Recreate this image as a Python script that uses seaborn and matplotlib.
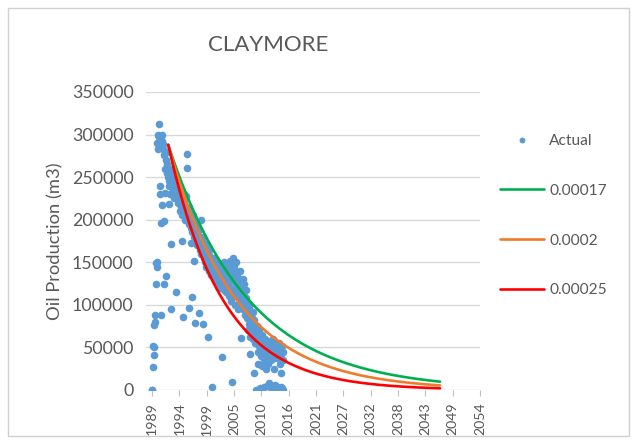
import numpy as np
import pandas as pd
import matplotlib
matplotlib.use("Agg")
import matplotlib.pyplot as plt
import seaborn as sns
from matplotlib.patches import Rectangle
from matplotlib.lines import Line2D

sns.set_theme(style="white")
plt.rcParams["font.family"] = ["Lato", "DejaVu Sans"]

# Monthly oil production, thousand m3, starting January 1989
actual_1989_1993 = [
    0, 0, 27, 52, 41, 50, 76, 88, 80, 125, 149, 145,
    150, 290, 300, 283, 312, 297, 285, 240, 230, 196, 88, 217,
    293, 300, 283, 289, 276, 125, 198, 231, 260, 270, 134, 255,
    280, 265, 250, 255, 240, 245, 219, 230, 245, 172, 95, 260,
    250, 240, 255, 235, 245, 230, 225, 250, 238, 115, 228, 242,
]
actual_1994_1998 = [
    235, 245, 228, 220, 240, 232, 225, 210, 238, 230, 215, 175,
    205, 225, 218, 86, 230, 210, 222, 215, 200, 228, 212, 205,
    261, 277, 210, 205, 96, 195, 215, 200, 208, 190, 173, 109,
    200, 185, 195, 205, 152, 190, 180, 192, 79, 175, 185, 170,
    185, 195, 178, 170, 91, 188, 172, 180, 165, 200, 160, 175,
]
actual_1999_2003 = [
    165, 175, 180, 78, 160, 170, 155, 168, 150, 172, 162, 145,
    160, 150, 155, 62, 165, 140, 158, 148, 152, 145, 135, 155,
    3, 150, 142, 135, 155, 148, 138, 130, 145, 140, 152, 128,
    140, 135, 148, 130, 125, 142, 138, 132, 120, 145, 128, 136,
    39, 135, 130, 140, 118, 125, 150, 132, 128, 115, 138, 122,
]
actual_2004_2008 = [
    130, 145, 120, 125, 110, 140, 135, 152, 118, 128, 105, 150,
    9, 140, 132, 155, 120, 110, 145, 128, 100, 138, 115, 150,
    125, 135, 95, 120, 115, 108, 130, 140, 112, 100, 61, 125,
    120, 110, 130, 95, 115, 105, 125, 88, 100, 118, 92, 108,
    95, 85, 102, 70, 90, 78, 98, 62, 42, 88, 75, 80,
]
actual_2009_2015 = [
    85, 70, 92, 60, 75, 20, 82, 65, 55, 72, 0, 68,
    60, 75, 45, 58, 30, 70, 52, 2, 62, 48, 40, 55,
    65, 28, 50, 42, 58, 35, 3, 48, 60, 25, 44, 52,
    40, 5, 55, 45, 30, 50, 8, 42, 58, 35, 2, 47,
    52, 40, 3, 60, 45, 25, 55, 6, 38, 48, 1, 42,
    50, 4, 45, 2, 38, 55, 1, 30, 48, 3, 42, 20,
    52, 2, 35, 45, 0,
]
first_year = 1989

# Exponential decline fits (daily decline rates)
decline_rates = [0.00017, 0.0002, 0.00025]
rate_labels = ["0.00017", "0.0002", "0.00025"]
rate_colors = ["#00B050", "#F07B2C", "#FF0000"]
initial_rate = 288000
fit_start = 1992.25
fit_end = 2046.75

# Date axis: a major unit of 2000 days
tick_labels = ["1989", "1994", "1999", "2005", "2010", "2016", "2021",
               "2027", "2032", "2038", "2043", "2049", "2054"]
y_ticks = [0, 50000, 100000, 150000, 200000, 250000, 300000, 350000]

actual_kt = (actual_1989_1993 + actual_1994_1998 + actual_1999_2003
             + actual_2004_2008 + actual_2009_2015)
actual = pd.DataFrame({
    "year": first_year + np.arange(len(actual_kt)) / 12.0,
    "production": np.array(actual_kt, dtype=float) * 1000.0,
})

fit_days = np.arange(0.0, (fit_end - fit_start) * 365.25 + 1, 30.0)
fits = pd.concat([
    pd.DataFrame({
        "year": fit_start + fit_days / 365.25,
        "production": initial_rate * np.exp(-rate * fit_days),
        "fit": label,
    })
    for rate, label in zip(decline_rates, rate_labels)
], ignore_index=True)

W, H = 637, 443
fig = plt.figure(figsize=(W / 100, H / 100), dpi=100)
fig.patch.set_facecolor("white")
fig.patches.append(Rectangle((8 / W, 1 - 436 / H), 621 / W, 428 / H,
                             transform=fig.transFigure, fill=False,
                             edgecolor="#D0D0D0", linewidth=1.0))

ax_left, ax_right, ax_top, ax_bottom = 146, 480, 92, 390
ax = fig.add_axes([ax_left / W, 1 - ax_bottom / H,
                   (ax_right - ax_left) / W, (ax_bottom - ax_top) / H])
ax.set_facecolor("white")

step_years = 2000 / 365.25
x_ticks = first_year + np.arange(len(tick_labels)) * step_years
x_max = x_ticks[-1]
px_per_year = (ax_right - 152) / (x_max - first_year)
ax.set_xlim(first_year - (152 - ax_left) / px_per_year, x_max)
ax.set_ylim(0, 350000)

for yv in y_ticks:
    ax.axhline(yv, color="#D9D9D9", linewidth=1.0, zorder=0)

sns.scatterplot(data=actual, x="year", y="production", ax=ax,
                color="#5B9BD5", s=30, linewidth=0, zorder=3, legend=False)
sns.lineplot(data=fits, x="year", y="production", hue="fit",
             hue_order=rate_labels, palette=rate_colors, ax=ax,
             linewidth=1.9, zorder=4, legend=False)

for s in ax.spines.values():
    s.set_visible(False)

ax.set_xticks(x_ticks)
ax.set_xticklabels(tick_labels, rotation=90, fontsize=10.2, color="#595959")
ax.set_yticks(y_ticks)
ax.set_yticklabels([str(v) for v in y_ticks], fontsize=12.8, color="#595959")
ax.tick_params(axis="x", length=4, width=0.8, color="#BFBFBF", pad=5,
               bottom=True)
ax.tick_params(axis="y", length=0, pad=9)
ax.set_xlabel("")
ax.set_ylabel("Oil Production (m3)", fontsize=13.2, color="#595959",
              labelpad=6)

fig.text(268 / W, 1 - 45 / H, "CLAYMORE", ha="center", va="center",
         fontsize=16, color="#595959")

handles = [Line2D([], [], linestyle="none", marker="o", markersize=4.2,
                  markerfacecolor="#5B9BD5", markeredgewidth=0)]
handles += [Line2D([], [], color=c, linewidth=1.9) for c in rate_colors]
leg = fig.legend(handles, ["Actual"] + rate_labels, loc="upper left",
                 bbox_to_anchor=(500 / W, 1 - 134 / H), frameon=False,
                 fontsize=11.2, handlelength=2.8, handletextpad=0.35,
                 labelspacing=2.3, borderpad=0, borderaxespad=0)
for t in leg.get_texts():
    t.set_color("#595959")

fig.savefig("out.png", dpi=100, facecolor="white")
